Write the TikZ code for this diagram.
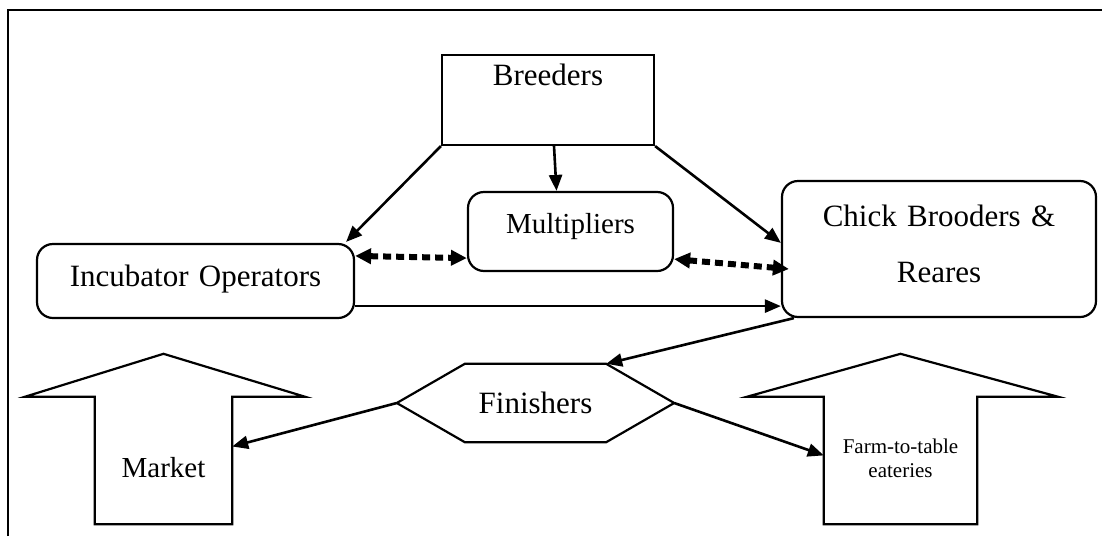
\documentclass[tikz,border=0pt]{standalone}
\usepackage{fontspec}
\setmainfont{Liberation Serif}
\usetikzlibrary{arrows.meta,calc}
\newcommand{\bigtext}{\fontsize{31}{56}\selectfont}
\newcommand{\midtext}{\fontsize{29}{34}\selectfont}
\newcommand{\smalltext}{\fontsize{21}{24}\selectfont}
\tikzset{
  box/.style={draw, line width=2.2pt, inner sep=0pt, align=center},
  roundbox/.style={box, rounded corners=16pt},
  plain/.style={inner sep=0pt, align=center},
  link/.style={-{Triangle[length=16pt,width=13pt]}, line width=2.6pt},
  dotlink/.style={{Triangle[length=16pt,width=15pt]}-{Triangle[length=16pt,width=15pt]},
    line width=6pt, dash pattern=on 8pt off 5pt},
  outline/.style={line width=2.2pt, line join=miter}
}

\begin{document}
\begin{tikzpicture}[x=1pt,y=-1pt]
  \useasboundingbox (0,0) rectangle (1102,536);
  \draw[line width=2.6pt] (8,536) -- (8,10) -- (1102,10);

  \node[box, text width=212pt, text height=30pt, text depth=60pt, font=\bigtext]
    (breeders) at (548,100) {Breeders};
  \node[roundbox, text width=205pt, text height=41pt, text depth=38pt, font=\midtext]
    (mult) at (570.5,231.5) {Multipliers};
  \node[roundbox, text width=317pt, text height=42pt, text depth=32pt, font=\bigtext]
    (incub) at (195.5,281) {Incubator Operators};
  \node[roundbox, text width=314pt, text height=45pt, text depth=91pt, font=\bigtext]
    (chick) at (939,249) {Chick Brooders \&\\Reares};

  \node[plain, text width=277pt, text height=49pt, text depth=29pt, font=\bigtext]
    (fin) at (535.5,403) {Finishers};
  \draw[outline] (fin.west) -- ($(fin.north west)+(68,0)$) -- ($(fin.north east)+(-68,0)$)
    -- (fin.east) -- ($(fin.south east)+(-68,0)$) -- ($(fin.south west)+(68,0)$) -- cycle;

  \node[plain, text width=137pt, text height=80pt, text depth=47pt, font=\midtext]
    (market) at (163.5,460.5) {Market};
  \draw[outline] (market.south west) -- (market.north west) -- ++(-70,0)
    -- ($(market.north)+(0,-43)$) -- ($(market.north east)+(73,0)$)
    -- (market.north east) -- (market.south east) -- cycle;

  \node[plain, text width=153pt, text height=56pt, text depth=71pt, font=\smalltext]
    (farm) at (900.5,460.5) {Farm-to-table\\eateries};
  \draw[outline] (farm.south west) -- (farm.north west) -- ++(-77,0)
    -- ($(farm.north)+(0,-43)$) -- ($(farm.north east)+(81,0)$)
    -- (farm.north east) -- (farm.south east) -- cycle;

  \draw[link] (breeders.south west) -- ($(incub.north east)+(-9,-1)$);
  \draw[link] ($(breeders.south)+(6,0)$) -- ($(mult.north)+(-14,0)$);
  \draw[link] (breeders.south east) -- ($(chick.north west)+(0,63)$);
  \draw[dotlink] ($(incub.north east)+(0,13)$) -- ($(mult.south west)+(0,-14)$);
  \draw[dotlink] ($(mult.south east)+(0,-13)$) -- ($(chick.west)+(8,20)$);
  \draw[link] ($(incub.south east)+(0,-13)$) -- ($(chick.south west)+(0,-12)$);
  \draw[link] ($(chick.south west)+(13,0)$) -- ($(fin.north east)+(-68,0)$);
  \draw[link] (fin.west) -- ($(market.north east)!0.39!(market.south east)$);
  \draw[link] (fin.east) -- ($(farm.north west)!0.46!(farm.south west)$);
\end{tikzpicture}
\end{document}
